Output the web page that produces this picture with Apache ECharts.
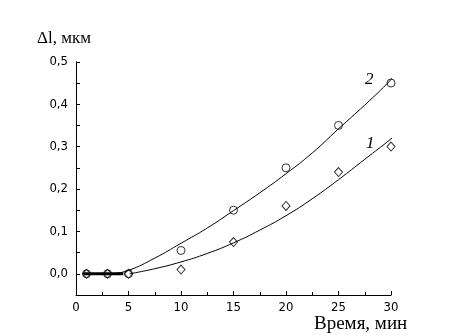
<!DOCTYPE html>
<html><head><meta charset="utf-8">
<script src="https://cdn.jsdelivr.net/npm/echarts@6/dist/echarts.min.js"></script>
<style>html,body{margin:0;padding:0;background:#fff}#c{width:456px;height:336px}</style>
</head><body><div id="c"></div>
<script>
// measured points
var timeX = [1, 3, 5, 10, 15, 20, 25, 30];
var series1 = [0, 0, 0, 0.01, 0.075, 0.16, 0.24, 0.30];
var series2 = [0, 0, 0, 0.055, 0.15, 0.25, 0.35, 0.45];
// fitted curves
var fit1X = [5.1, 7.5, 10, 12.5, 15, 17.5, 20, 22.5, 25, 27.5, 30, 30.4];
var fit1Y = [0, 0.012, 0.028, 0.048, 0.073, 0.103, 0.137, 0.177, 0.222, 0.27, 0.318, 0.327];
var fit2X = [3.5, 5, 7.5, 10, 12.5, 15, 17.5, 20, 22.5, 25, 27.5, 30, 30.4];
var fit2Y = [0, 0.008, 0.037, 0.072, 0.108, 0.149, 0.191, 0.236, 0.285, 0.342, 0.398, 0.458, 0.472];
// thick baseline
var baseX = [0.7, 4.5];
var baseY = [0, 0];
var curveLabels = ['1', '2'];

function pairs(xs, ys) { return xs.map(function (x, i) { return [x, ys[i]]; }); }

var tickFont = '"Liberation Sans Narrow","DejaVu Sans Condensed",Arial,sans-serif';
var serif = '"Liberation Serif","Times New Roman",serif';

var chart = echarts.init(document.getElementById('c'), null, {renderer: 'canvas'});
chart.setOption({
  animation: false,
  backgroundColor: '#fff',
  grid: {left: 76, top: 61.8, right: 65, bottom: 41, containLabel: false},
  xAxis: {
    type: 'value', min: 0, max: 30, interval: 5,
    axisLine: {onZero: false, lineStyle: {color: '#000', width: 1}},
    axisTick: {inside: true, length: 4, lineStyle: {color: '#000'}},
    minorTick: {show: true, splitNumber: 2, length: 3, lineStyle: {color: '#000'}},
    splitLine: {show: false},
    axisLabel: {color: '#000', fontFamily: tickFont, fontSize: 13, margin: 6}
  },
  yAxis: {
    type: 'value', min: -0.05, max: 0.5, interval: 0.05,
    axisLine: {show: true, onZero: false, lineStyle: {color: '#000', width: 1}},
    axisTick: {show: true, inside: true, length: 4, lineStyle: {color: '#000'}},
    splitLine: {show: false},
    axisLabel: {
      color: '#000', fontFamily: tickFont, fontSize: 13, margin: 8,
      formatter: function (v) {
        var r = Math.round(v * 100);
        if (r < 0 || r % 10 !== 0) return '';
        return (r / 100).toFixed(1).replace('.', ',');
      }
    }
  },
  series: [
    {type: 'line', data: pairs(baseX, baseY), symbol: 'none', lineStyle: {color: '#000', width: 3}, z: 3},
    {type: 'line', data: pairs(fit1X, fit1Y), symbol: 'none', smooth: true, lineStyle: {color: '#000', width: 1}},
    {type: 'line', data: pairs(fit2X, fit2Y), symbol: 'none', smooth: true, lineStyle: {color: '#000', width: 1}},
    {type: 'scatter', data: pairs(timeX, series1), symbol: 'diamond', symbolSize: [8, 9],
     itemStyle: {color: 'rgba(0,0,0,0)', borderColor: '#000', borderWidth: 1}},
    {type: 'scatter', data: pairs(timeX, series2), symbol: 'circle', symbolSize: 8,
     itemStyle: {color: 'rgba(0,0,0,0)', borderColor: '#000', borderWidth: 1}}
  ],
  graphic: [
    {type: 'text', left: 37, top: 30, style: {text: 'Δl, мкм', font: '17px ' + serif, fill: '#000'}},
    {type: 'text', left: 314, top: 315, style: {text: 'Время, мин', font: '19px ' + serif, fill: '#000'}},
    {type: 'text', left: 366, top: 135, style: {text: curveLabels[0], font: 'italic 17px ' + serif, fill: '#000'}},
    {type: 'text', left: 365, top: 71, style: {text: curveLabels[1], font: 'italic 17px ' + serif, fill: '#000'}}
  ]
});
</script></body></html>
